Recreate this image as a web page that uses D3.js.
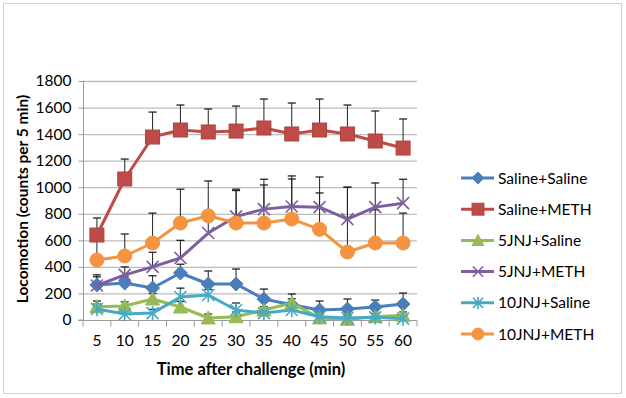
<!DOCTYPE html>
<html><head><meta charset="utf-8">
<script src="https://cdnjs.cloudflare.com/ajax/libs/d3/7.8.5/d3.min.js"></script>
<style>body{margin:0;background:#fff}svg{display:block}</style>
</head><body>
<script>
const times = [5,10,15,20,25,30,35,40,45,50,55,60];
const yTicks = [0,200,400,600,800,1000,1200,1400,1600,1800];
const seriesNames = ["Saline+Saline","Saline+METH","5JNJ+Saline","5JNJ+METH","10JNJ+Saline","10JNJ+METH"];
const salineSaline = [264,278,241,354,271,271,158,115,75,83,98,120];
const salineSalineErr = [340,330,333,420,369,384,233,196,143,158,150,203];
const salineMeth = [640,1062,1378,1431,1416,1423,1446,1401,1431,1401,1348,1295];
const salineMethErr = [768,1212,1566,1619,1589,1611,1664,1634,1664,1619,1574,1514];
const jnj5Saline = [100,105,158,98,15,25,75,128,15,5,25,35];
const jnj5SalineErr = [143,136,200,140,45,60,100,160,40,30,50,60];
const jnj5Meth = [260,340,400,467,655,780,835,855,850,760,850,880];
const jnj5MethErr = [325,400,510,600,800,985,1060,1085,1077,1000,1032,1060];
const jnj10Saline = [83,45,52,173,188,75,52,75,25,15,20,10];
const jnj10SalineErr = [120,80,80,240,230,128,80,110,50,40,45,30];
const jnj10Meth = [452,482,580,730,785,730,730,760,683,512,580,580];
const jnj10MethErr = [600,648,805,985,1047,975,1017,1062,957,1000,830,805];

const colors = ["#4A7EBB","#BE4B48","#98B954","#7D5FA0","#46AAC5","#F59440"];
const markers = ["diamond","square","triangle","x","star","circle"];
const values = [salineSaline,salineMeth,jnj5Saline,jnj5Meth,jnj10Saline,jnj10Meth];
const errs = [salineSalineErr,salineMethErr,jnj5SalineErr,jnj5MethErr,jnj10SalineErr,jnj10MethErr];

const W=626,H=398;
const svg=d3.select("body").append("svg").attr("width",W).attr("height",H);
const font="Lato, 'Open Sans', sans-serif";
svg.append("rect").attr("x",3.5).attr("y",3.5).attr("width",618).attr("height",390)
  .attr("fill","#fff").attr("stroke","#d0d0d0");

const pLeft=83,pRight=417,pTop=81,pBottom=320;
const x=d3.scaleBand().domain(times).range([pLeft,pRight]);
const y=d3.scaleLinear().domain([0,1800]).range([pBottom,pTop]);

// gridlines
svg.append("g").selectAll("line").data(yTicks.filter(d=>d>0)).join("line")
  .attr("x1",pLeft).attr("x2",pRight).attr("y1",d=>y(d)+0.5).attr("y2",d=>y(d)+0.5)
  .attr("stroke","#bdbdbd").attr("stroke-width",1.3);

// y axis
const ya=svg.append("g").attr("transform",`translate(${pLeft+0.5},0)`)
  .call(d3.axisLeft(y).tickValues(yTicks).tickFormat(d3.format("d")).tickSize(5).tickPadding(4));
ya.select(".domain").attr("stroke","#9a9a9a").attr("d",`M-5,${pBottom}H0V${pTop}`);
ya.selectAll(".tick line").attr("stroke","#9a9a9a");
ya.selectAll("text").attr("font-family",font).attr("font-size",15.5).attr("fill","#000").attr("dx",-3);

// x axis
const xa=svg.append("g").attr("transform",`translate(0,${pBottom+0.5})`)
  .call(d3.axisBottom(x).tickSize(0).tickPadding(14));
xa.select(".domain").attr("stroke","#9a9a9a").attr("d",`M${pLeft},0H${pRight}`);
xa.selectAll(".tick line").remove();
xa.append("g").selectAll("line").data(d3.range(times.length+1)).join("line")
  .attr("x1",i=>pLeft+i*x.step()).attr("x2",i=>pLeft+i*x.step())
  .attr("y1",0).attr("y2",6).attr("stroke","#9a9a9a");
xa.selectAll("text").attr("font-family",font).attr("font-size",15.5).attr("fill","#000");

svg.append("text").attr("x",251).attr("y",375).attr("text-anchor","middle")
  .attr("font-family",font).attr("font-weight","bold").attr("font-size",16.5).text("Time after challenge (min)");
svg.append("text").attr("transform","translate(28,199) rotate(-90)").attr("text-anchor","middle")
  .attr("font-family",font).attr("font-weight","bold").attr("font-size",15.5).text("Locomotion (counts per 5 min)");

const cx=d=>x(d)+x.bandwidth()/2;

// error bars
const eg=svg.append("g");
values.forEach((vals,si)=>{
  times.forEach((t,i)=>{
    const xx=cx(t);
    eg.append("line").attr("x1",xx).attr("x2",xx).attr("y1",y(vals[i])).attr("y2",y(errs[si][i]))
      .attr("stroke","#222").attr("stroke-width",1);
    eg.append("line").attr("x1",xx-4).attr("x2",xx+4).attr("y1",y(errs[si][i])).attr("y2",y(errs[si][i]))
      .attr("stroke","#222").attr("stroke-width",1.3);
  });
});

function drawMarker(g,type,px,py,color,scale=1){
  const s=scale;
  if(type==="diamond"){
    g.append("path").attr("d",`M${px},${py-7*s}L${px+7*s},${py}L${px},${py+7*s}L${px-7*s},${py}Z`).attr("fill",color).attr("stroke",color);
  } else if(type==="square"){
    g.append("rect").attr("x",px-7*s).attr("y",py-7*s).attr("width",14*s).attr("height",14*s).attr("fill",color).attr("stroke",d3.color(color).darker(0.3));
  } else if(type==="triangle"){
    g.append("path").attr("d",`M${px},${py-7*s}L${px+7*s},${py+6*s}L${px-7*s},${py+6*s}Z`).attr("fill",color).attr("stroke",color);
  } else if(type==="x"){
    const r=6*s;
    g.append("path").attr("d",`M${px-r},${py-r}L${px+r},${py+r}M${px-r},${py+r}L${px+r},${py-r}`).attr("stroke",color).attr("stroke-width",1.6);
  } else if(type==="star"){
    const r=6*s;
    g.append("path").attr("d",`M${px-r},${py-r}L${px+r},${py+r}M${px-r},${py+r}L${px+r},${py-r}M${px},${py-r*1.2}L${px},${py+r*1.2}`).attr("stroke",color).attr("stroke-width",1.6);
  } else if(type==="circle"){
    g.append("circle").attr("cx",px).attr("cy",py).attr("r",7*s).attr("fill",color).attr("stroke",color);
  }
}

values.forEach((vals,si)=>{
  const g=svg.append("g");
  g.append("path").datum(vals).attr("fill","none").attr("stroke",colors[si]).attr("stroke-width",3)
    .attr("stroke-linejoin","round")
    .attr("d",d3.line().x((d,i)=>cx(times[i])).y(d=>y(d)));
  vals.forEach((v,i)=>drawMarker(g,markers[si],cx(times[i]),y(v),colors[si]));
});

// legend
const lg=svg.append("g");
seriesNames.forEach((n,i)=>{
  const ly=178+i*31.2;
  lg.append("line").attr("x1",461).attr("x2",494).attr("y1",ly).attr("y2",ly).attr("stroke",colors[i]).attr("stroke-width",3);
  drawMarker(lg,markers[i],478,ly,colors[i],0.85);
  lg.append("text").attr("x",498).attr("y",ly+5.5).attr("font-family",font).attr("font-size",15.5).text(n);
});
</script>
</body></html>
